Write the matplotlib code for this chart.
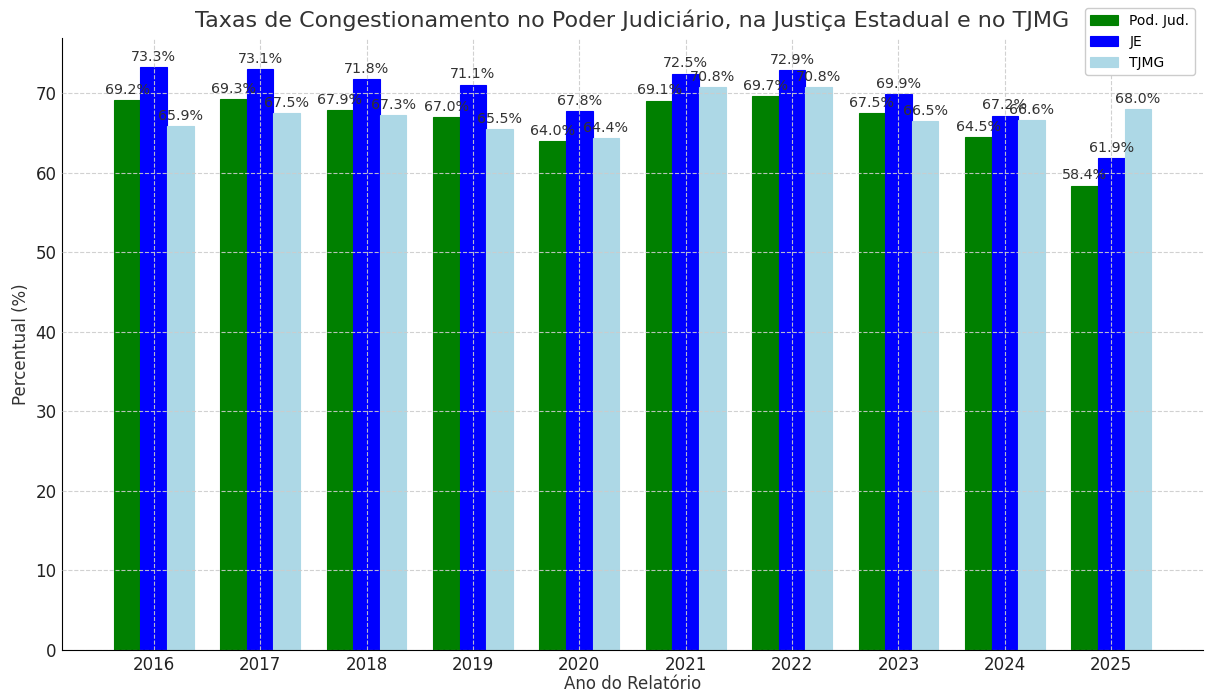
import matplotlib
matplotlib.use("Agg")
import matplotlib.pyplot as plt
import numpy as np

years = ["2016", "2017", "2018", "2019", "2020", "2021", "2022", "2023", "2024", "2025"]
pod_jud = [69.2, 69.3, 67.9, 67.0, 64.0, 69.1, 69.7, 67.5, 64.5, 58.4]
je = [73.3, 73.1, 71.8, 71.1, 67.8, 72.5, 72.9, 69.9, 67.2, 61.9]
tjmg = [65.9, 67.5, 67.3, 65.5, 64.4, 70.8, 70.8, 66.5, 66.6, 68.0]

series = [("Pod. Jud.", pod_jud, "green"), ("JE", je, "blue"), ("TJMG", tjmg, "lightblue")]

fig = plt.figure(figsize=(12.05, 6.93), dpi=100)
ax = fig.add_axes([62/1205, 1-650/693, (1203-62)/1205, (650-38)/693])

x = np.arange(len(years))
w = 0.25
for i, (name, vals, col) in enumerate(series):
    bars = ax.bar(x + (i-1)*w, vals, w, color=col, label=name, edgecolor=col, linewidth=0.8, zorder=1)
    for b, v in zip(bars, vals):
        ax.text(b.get_x() + b.get_width()/2, v + 0.4, f"{v:.1f}%", ha="center", va="bottom",
                fontsize=10.3, color="#333333", zorder=3)

ax.set_xticks(x)
ax.set_xticklabels(years, fontsize=12, color="#222222")
ax.tick_params(axis="both", length=0, pad=4)
ax.tick_params(axis="y", labelsize=12, colors="#222222")
ax.set_xlabel("Ano do Relatório", fontsize=12, color="#333333", labelpad=1)
ax.set_ylabel("Percentual (%)", fontsize=12, color="#333333")
ax.set_title("Taxas de Congestionamento no Poder Judiciário, na Justiça Estadual e no TJMG",
             fontsize=16, color="#333333", pad=8)
ax.grid(True, linestyle="--", color="#cccccc", linewidth=0.8, alpha=0.9, zorder=2)
ax.set_axisbelow(False)
for s in ["top", "right"]:
    ax.spines[s].set_visible(False)
ax.legend(loc="upper right", bbox_to_anchor=(0.999, 1.06), fontsize=10, framealpha=1.0)

fig.savefig("out.png", dpi=100)
